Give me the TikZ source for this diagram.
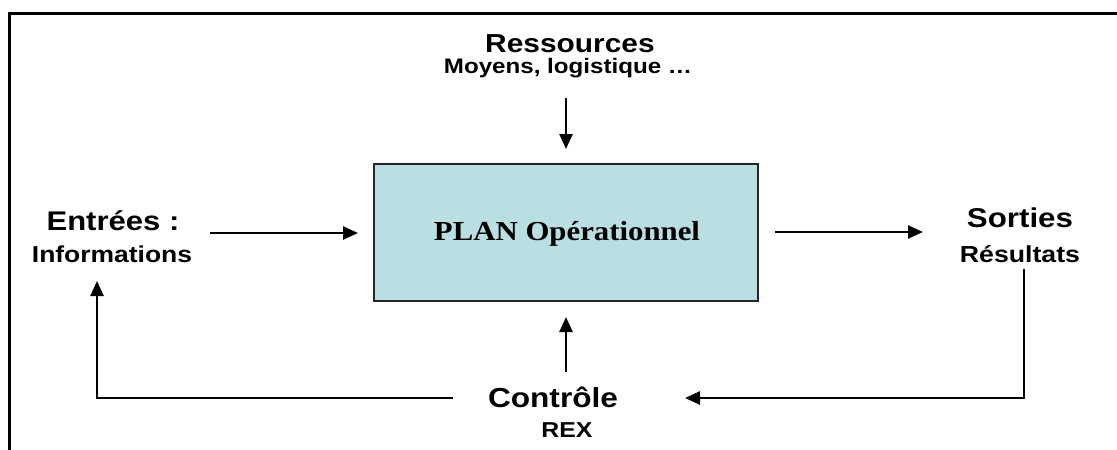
\documentclass[tikz,border=0pt]{standalone}
\usepackage{fontspec}
\usepackage{graphicx}
\setmainfont{Liberation Sans}
\newfontfamily\serifplan{Liberation Serif}
\usetikzlibrary{arrows.meta}
\definecolor{planfill}{RGB}{186,223,227}
\newcommand{\wide}[1]{\scalebox{1.15}[1]{#1}}
\begin{document}
\begin{tikzpicture}[x=1pt,y=-1pt,
  lbl/.style={anchor=base,inner sep=0pt,font=\bfseries},
  conn/.style={line width=2.5pt,-{Triangle[length=15pt,width=13pt]}},
  frameline/.style={line width=3pt}]
\useasboundingbox (0,0) rectangle (1117,450);
% frame
\draw[frameline] (9.5,450) -- (9.5,13) -- (1117,13);
% central box
\node[draw=black!85,line width=1.6pt,fill=planfill,minimum width=384pt,minimum height=137pt,inner sep=0pt] (plan) at (566,232.5) {};
\node[anchor=base,inner sep=0pt] (plantext) at (567,240) {\scalebox{1.12}[1]{\serifplan\bfseries\fontsize{27.5}{30}\selectfont PLAN Opérationnel}};
% labels
\node[lbl] (res) at (570,52) {\wide{\fontsize{26}{30}\selectfont Ressources}};
\node[lbl] (moy) at (568,73) {\wide{\fontsize{21}{25}\selectfont Moyens, logistique …}};
\node[lbl] (ent) at (113,230) {\wide{\fontsize{27}{31}\selectfont Entrées :}};
\node[lbl] (inf) at (112,262) {\wide{\fontsize{23}{27}\selectfont Informations}};
\node[lbl] (sor) at (1020,227) {\wide{\fontsize{27.2}{31}\selectfont Sorties}};
\node[lbl] (resu) at (1020,262) {\wide{\fontsize{23.2}{27}\selectfont Résultats}};
\node[lbl] (ctl) at (553,407) {\wide{\fontsize{27.5}{31}\selectfont Contrôle}};
\node[lbl] (rex) at (567,437) {\wide{\fontsize{21.6}{25}\selectfont REX}};
% connector end points
\coordinate (resA) at (566,98);
\coordinate (resB) at (566,149);
\coordinate (entA) at (210,233);
\coordinate (entB) at (358,233);
\coordinate (sorA) at (775,232);
\coordinate (sorB) at (923,232);
\coordinate (ctlA) at (566,372);
\coordinate (ctlB) at (566,317);
\coordinate (fbR0) at (1024,269);
\coordinate (fbR1) at (1024,398);
\coordinate (fbR2) at (685,398);
\coordinate (fbL0) at (453,398);
\coordinate (fbL1) at (97,398);
\coordinate (fbL2) at (97,281);
% connectors
\draw[conn] (resA) -- (resB);
\draw[conn] (entA) -- (entB);
\draw[conn] (sorA) -- (sorB);
\draw[conn] (ctlA) -- (ctlB);
\draw[conn] (fbR0) -- (fbR1) -- (fbR2);
\draw[conn] (fbL0) -- (fbL1) -- (fbL2);
\end{tikzpicture}
\end{document}
